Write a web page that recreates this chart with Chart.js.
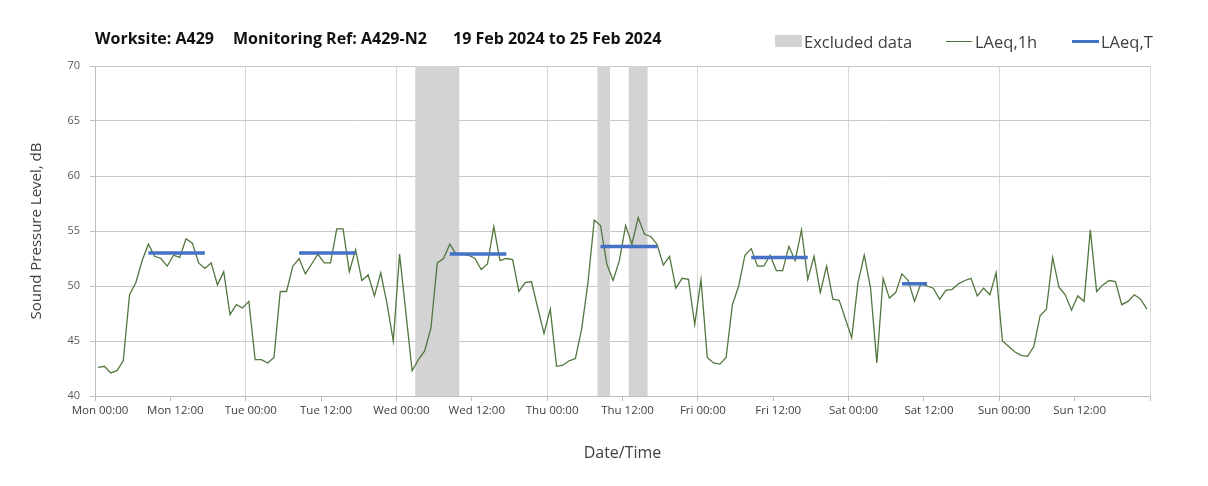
<!DOCTYPE html>
<html>
<head>
<meta charset="utf-8">
<script src="https://cdn.jsdelivr.net/npm/chart.js@4.4.1/dist/chart.umd.min.js"></script>
<style>
  body { margin: 0; background: #fff; }
  #wrap { position: relative; width: 1208px; height: 486px; font-family: "Open Sans", sans-serif; }
  .title { position: absolute; top: 27px; font-weight: bold; font-size: 16px; color: #111; white-space: nowrap; }
  .legend { position: absolute; top: 30px; font-size: 16.5px; color: #404040; white-space: nowrap; }
  .key { position: absolute; top: 11px; }
</style>
</head>
<body>
<div id="wrap">
  <canvas id="chart" width="1208" height="486"></canvas>
  <div class="title" style="left:95px">Worksite: A429</div>
  <div class="title" style="left:233px">Monitoring Ref: A429-N2</div>
  <div class="title" style="left:453px">19 Feb 2024 to 25 Feb 2024</div>
  <div class="legend" style="left:775px"><span class="key" style="left:0;top:5px;width:27px;height:12px;background:#d3d3d3"></span><span style="padding-left:29px">Excluded data</span></div>
  <div class="legend" style="left:946px"><span class="key" style="left:0;width:26px;height:0;border-top:1.5px solid #52763f"></span><span style="padding-left:29px">LAeq,1h</span></div>
  <div class="legend" style="left:1072px"><span class="key" style="left:0;top:10px;width:27px;height:3px;background:#4472c4"></span><span style="padding-left:29px">LAeq,T</span></div>
</div>
<script>
// hourly LAeq,1h values, one array per day (00:00 .. 23:00)
const mon = [42.6, 42.7, 42.1, 42.3, 43.2, 49.2, 50.3, 52.3, 53.8, 52.7, 52.5, 51.8, 52.8, 52.6, 54.3, 53.9, 52.1, 51.6, 52.1, 50.1, 51.3, 47.4, 48.3, 48.0];
const tue = [48.6, 43.3, 43.3, 43.0, 43.5, 49.5, 49.5, 51.8, 52.5, 51.1, 52.0, 52.9, 52.1, 52.1, 55.2, 55.2, 51.3, 53.3, 50.5, 51.0, 49.1, 51.2, 48.4, 45.0];
const wed = [52.9, 47.6, 42.3, 43.3, 44.1, 46.2, 52.1, 52.5, 53.8, 52.9, 52.9, 52.8, 52.5, 51.5, 52.0, 55.4, 52.3, 52.5, 52.4, 49.5, 50.3, 50.4, 48.0, 45.7];
const thu = [47.9, 42.7, 42.8, 43.2, 43.4, 46.1, 50.3, 56.0, 55.5, 52.0, 50.5, 52.3, 55.5, 53.8, 56.2, 54.7, 54.5, 53.8, 51.9, 52.7, 49.8, 50.7, 50.6, 46.5];
const fri = [50.6, 43.5, 43.0, 42.9, 43.5, 48.3, 50.0, 52.8, 53.4, 51.8, 51.8, 52.8, 51.4, 51.4, 53.6, 52.3, 55.1, 50.6, 52.7, 49.4, 51.8, 48.8, 48.7, 47.0];
const sat = [45.3, 50.3, 52.8, 49.8, 43.0, 50.7, 48.9, 49.4, 51.1, 50.5, 48.6, 50.2, 50.0, 49.8, 48.8, 49.6, 49.7, 50.2, 50.5, 50.7, 49.1, 49.8, 49.2, 51.2];
const sun = [45.0, 44.5, 44.0, 43.7, 43.6, 44.5, 47.3, 47.9, 52.6, 49.9, 49.2, 47.8, 49.1, 48.6, 55.1, 49.5, 50.1, 50.5, 50.4, 48.3, 48.6, 49.2, 48.8, 47.9];
const hourlyLevels = [].concat(mon, tue, wed, thu, fri, sat, sun);

// LAeq,T over each daytime period (hours from Mon 00:00)
const periodFrom = [8.5, 32.5, 56.5, 80.5, 104.5, 128.5];
const periodTo = [17.5, 41.5, 65.5, 89.5, 113.5, 132.5];
const periodLevels = [53.0, 53.0, 52.9, 53.6, 52.6, 50.2];

// excluded data windows (hours from Mon 00:00)
const excludedFrom = [51, 80, 85];
const excludedTo = [58, 82, 88];

const tickLabels = ["Mon 00:00", "Mon 12:00", "Tue 00:00", "Tue 12:00", "Wed 00:00", "Wed 12:00",
  "Thu 00:00", "Thu 12:00", "Fri 00:00", "Fri 12:00", "Sat 00:00", "Sat 12:00", "Sun 00:00", "Sun 12:00"];

const hourlyPoints = hourlyLevels.map((v, i) => ({ x: i + 0.5, y: v }));
const periodPoints = [];
periodLevels.forEach((v, i) => {
  periodPoints.push({ x: periodFrom[i], y: v }, { x: periodTo[i], y: v }, { x: periodTo[i], y: null });
});

const excludedBands = {
  id: "excludedBands",
  beforeDatasetsDraw(chart) {
    const { ctx, chartArea, scales } = chart;
    ctx.save();
    ctx.fillStyle = "#d3d3d3";
    excludedFrom.forEach((from, i) => {
      const x0 = scales.x.getPixelForValue(from);
      const x1 = scales.x.getPixelForValue(excludedTo[i]);
      ctx.fillRect(x0, chartArea.top, x1 - x0, chartArea.bottom - chartArea.top);
    });
    ctx.restore();
  }
};

const ctx = document.getElementById("chart").getContext("2d");
new Chart(ctx, {
  type: "line",
  data: {
    datasets: [
      {
        label: "LAeq,T",
        data: periodPoints,
        borderColor: "#4472c4",
        borderWidth: 3.5,
        pointRadius: 0,
        spanGaps: false,
        order: 0,
      },
      {
        label: "LAeq,1h",
        data: hourlyPoints,
        borderColor: "#52763f",
        borderWidth: 1.3,
        pointRadius: 0,
        tension: 0,
        order: 1,
      },
    ],
  },
  options: {
    responsive: false,
    animation: false,
    layout: { padding: { top: 66, right: 58, bottom: 0, left: 0 } },
    plugins: {
      legend: { display: false },
      tooltip: { enabled: false },
    },
    scales: {
      x: {
        type: "linear",
        min: 0,
        max: 168,
        afterFit: (scale) => { scale.height = 90; },
        border: { color: "#bfbfbf" },
        grid: {
          color: (c) => (c.tick && c.tick.value % 24 === 0 ? "#d9d9d9" : "rgba(0,0,0,0)"),
          tickColor: "#bfbfbf",
          tickLength: 5,
        },
        ticks: {
          stepSize: 12,
          autoSkip: false,
          maxRotation: 0,
          padding: 3,
          labelOffset: 5,
          color: "#404040",
          font: { family: "Open Sans", size: 11.5 },
          callback: (value) => tickLabels[value / 12] || "",
        },
        title: {
          display: true,
          text: "Date/Time",
          color: "#404040",
          font: { family: "Open Sans", size: 16 },
          padding: { top: 0, bottom: 23 },
        },
      },
      y: {
        min: 40,
        max: 70,
        afterFit: (scale) => { scale.width = 95; },
        border: { color: "#bfbfbf" },
        grid: { color: "#c8c8c8", tickColor: "#bfbfbf", tickLength: 5 },
        ticks: {
          stepSize: 5,
          padding: 10,
          color: "#595959",
          font: { family: "Open Sans", size: 11 },
        },
        title: {
          display: true,
          text: "Sound Pressure Level, dB",
          color: "#404040",
          font: { family: "Open Sans", size: 15 },
          padding: { top: 28, bottom: 0 },
        },
      },
    },
  },
  plugins: [excludedBands],
});
</script>
</body>
</html>
